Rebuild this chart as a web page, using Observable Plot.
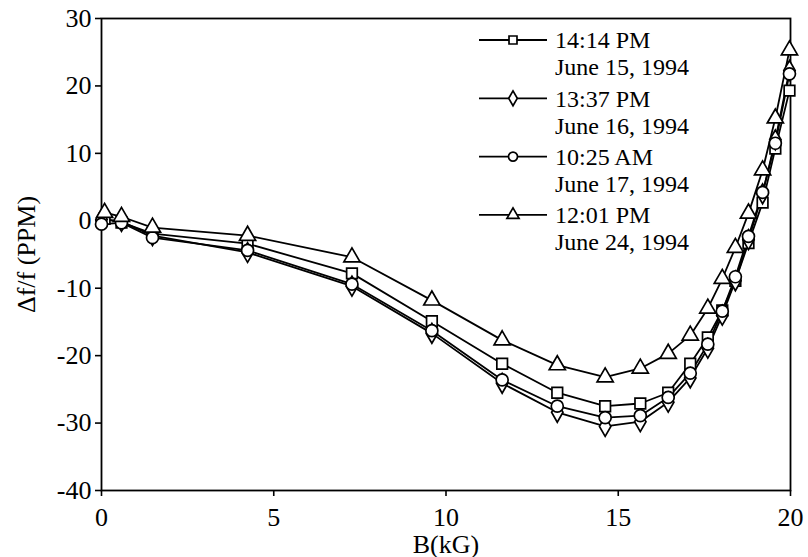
<!DOCTYPE html>
<html>
<head>
<meta charset="utf-8">
<script src="https://cdn.jsdelivr.net/npm/d3@7"></script>
<script src="https://cdn.jsdelivr.net/npm/@observablehq/plot@0.6"></script>
<style>
  body { margin: 0; background: #fff; }
  svg, svg text { font-family: "Liberation Serif", "Times New Roman", serif !important; }
</style>
</head>
<body>
<div id="chart"></div>
<script>
// Series labels (time of measurement) and their marker shapes
const seriesTime = ["14:14 PM", "13:37 PM", "10:25 AM", "12:01 PM"];
const seriesDate = ["June 15, 1994", "June 16, 1994", "June 17, 1994", "June 24, 1994"];
const seriesShape = ["square", "diamond", "circle", "triangle"];

// Field values B (kG) at which the frequency shift was measured
const fieldA = [0.09, 0.58, 1.48, 4.24, 7.27, 9.59, 11.63, 13.23, 14.62, 15.64, 16.45, 17.09, 17.6, 18.02, 18.4, 18.78, 19.19, 19.56, 19.97];
const fieldB = [0.0, 0.58, 1.48, 4.24, 7.27, 9.59, 11.63, 13.23, 14.62, 15.64, 16.45, 17.09, 17.6, 18.02, 18.4, 18.78, 19.19, 19.56, 19.97];

// Δf/f in PPM for each run
const shiftJun15 = [0.3, -0.25, -1.9, -3.4, -7.8, -14.9, -21.2, -25.5, -27.5, -27.1, -25.5, -21.2, -17.3, -13.3, -8.9, -3.3, 2.7, 10.7, 19.3];
const shiftJun16 = [0.2, -0.1, -2.2, -4.7, -9.7, -16.7, -24.1, -28.4, -30.5, -29.8, -26.9, -23.3, -18.9, -14.0, -8.9, -2.8, 4.0, 12.0, 22.3];
const shiftJun17 = [-0.5, -0.3, -2.5, -4.4, -9.4, -16.3, -23.6, -27.5, -29.2, -28.9, -26.2, -22.6, -18.3, -13.4, -8.3, -2.3, 4.2, 11.5, 21.8];
const shiftJun24 = [1.2, 0.6, -1.0, -2.2, -5.4, -11.8, -17.7, -21.4, -23.2, -21.9, -19.7, -17.0, -13.0, -8.6, -4.0, 1.1, 7.5, 15.2, 25.3];

// Axis ticks
const xTicks = [0, 5, 10, 15, 20];
const yTicks = [-40, -30, -20, -10, 0, 10, 20, 30];

const runs = [
  {field: fieldA, shift: shiftJun15},
  {field: fieldB, shift: shiftJun16},
  {field: fieldB, shift: shiftJun17},
  {field: fieldA, shift: shiftJun24}
];

const seriesNames = seriesTime.map((t, i) => t + " " + seriesDate[i]);
const rows = runs.flatMap((r, i) =>
  r.field.map((b, j) => ({B: b, v: r.shift[j], series: seriesNames[i]}))
);

const FONT = 26;
const LEGEND_FONT = 24;
const R = 6;

const chart = Plot.plot({
  width: 808,
  height: 557,
  marginLeft: 101,
  marginRight: 18,
  marginTop: 18,
  marginBottom: 67,
  style: {fontFamily: "Liberation Serif, serif", fontSize: FONT + "px", color: "black", background: "white"},
  x: {domain: [0, 20]},
  y: {domain: [-40, 30]},
  symbol: {domain: seriesNames, range: seriesShape},
  marks: [
    Plot.frame({stroke: "black", strokeWidth: 1.8}),
    Plot.axisX({ticks: xTicks, tickSize: 6, tickPadding: 11, tickFormat: d => d, strokeWidth: 1.6,
      label: "B(kG)", labelAnchor: "center", labelArrow: "none", labelOffset: 62}),
    Plot.axisY({ticks: yTicks, tickSize: 6, tickPadding: 4, tickFormat: d => d, strokeWidth: 1.6,
      label: "Δf/f (PPM)", labelAnchor: "center", labelArrow: "none", labelOffset: 85}),
    Plot.line(rows, {x: "B", y: "v", z: "series", stroke: "black", strokeWidth: 1.8}),
    Plot.dot(rows, {x: "B", y: "v", symbol: "series", r: R, fill: "white", stroke: "black", strokeWidth: 1.7})
  ]
});

document.getElementById("chart").appendChild(chart);

// Legend in the upper right of the plot area
const svg = d3.select(chart);
const legend = svg.append("g").attr("class", "legend")
  .attr("font-size", LEGEND_FONT).attr("fill", "black").attr("text-anchor", "start");
const symbolOf = {square: d3.symbolSquare, diamond: d3.symbolDiamond, circle: d3.symbolCircle, triangle: d3.symbolTriangle};
const legendX0 = 479, legendX1 = 547, legendTextX = 555, legendTop = 40, legendStep = 58.3, lineGap = 27;
seriesTime.forEach((t, i) => {
  const y = legendTop + i * legendStep;
  const g = legend.append("g");
  g.append("line").attr("x1", legendX0).attr("x2", legendX1).attr("y1", y).attr("y2", y)
    .attr("stroke", "black").attr("stroke-width", 1.8);
  g.append("path").attr("d", d3.symbol(symbolOf[seriesShape[i]], Math.PI * (R - 1.5) * (R - 1.5))())
    .attr("transform", `translate(${(legendX0 + legendX1) / 2},${y})`)
    .attr("fill", "white").attr("stroke", "black").attr("stroke-width", 1.7);
  g.append("text").attr("x", legendTextX).attr("y", y).attr("dy", "0.35em").text(t);
  g.append("text").attr("x", legendTextX).attr("y", y + lineGap).attr("dy", "0.35em").text(seriesDate[i]);
});
</script>
</body>
</html>
